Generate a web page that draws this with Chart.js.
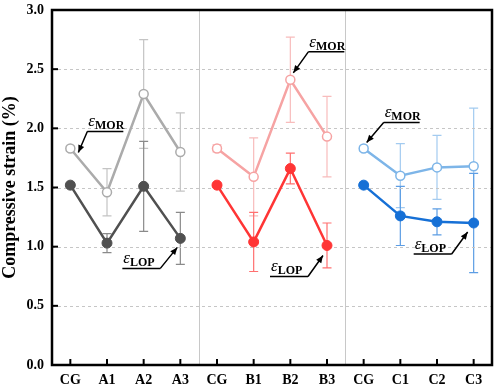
<!DOCTYPE html>
<html>
<head>
<meta charset="utf-8">
<script src="https://cdn.jsdelivr.net/npm/chart.js@4.4.0/dist/chart.umd.min.js"></script>
<style>
  html, body { margin: 0; padding: 0; background: #fff; }
  #wrap { width: 498px; height: 388px; }
</style>
</head>
<body>
<div id="wrap"><canvas id="strain"></canvas></div>
<script>
// categories along the x axis
var categories = ['CG', 'A1', 'A2', 'A3', 'CG', 'B1', 'B2', 'B3', 'CG', 'C1', 'C2', 'C3'];
var yTicks = [0, 0.5, 1.0, 1.5, 2.0, 2.5, 3.0];

// mean values (null = not in this group)
var morA = [1.83, 1.46, 2.29, 1.80, null, null, null, null, null, null, null, null];
var lopA = [1.52, 1.03, 1.51, 1.07, null, null, null, null, null, null, null, null];
var morB = [null, null, null, null, 1.83, 1.59, 2.41, 1.93, null, null, null, null];
var lopB = [null, null, null, null, 1.52, 1.04, 1.66, 1.01, null, null, null, null];
var morC = [null, null, null, null, null, null, null, null, 1.83, 1.60, 1.67, 1.68];
var lopC = [null, null, null, null, null, null, null, null, 1.52, 1.26, 1.21, 1.20];

// error bar half widths
var morAErr = [0.02, 0.20, 0.46, 0.33, null, null, null, null, null, null, null, null];
var lopAErr = [0.01, 0.08, 0.38, 0.22, null, null, null, null, null, null, null, null];
var morBErr = [null, null, null, null, 0.03, 0.33, 0.36, 0.34, null, null, null, null];
var lopBErr = [null, null, null, null, 0.01, 0.25, 0.13, 0.19, null, null, null, null];
var morCErr = [null, null, null, null, null, null, null, null, 0.02, 0.27, 0.27, 0.49];
var lopCErr = [null, null, null, null, null, null, null, null, 0.01, 0.25, 0.11, 0.42];

// annotation targets: subscript, category index, value pointed at
var noteSubs = ['MOR', 'MOR', 'MOR', 'LOP', 'LOP', 'LOP'];
var noteIdx = [0, 6, 8, 3, 7, 11];
var noteVals = [1.83, 2.41, 1.83, 1.07, 1.01, 1.20];

// arrow tip offset from point, leader vector back to underline, underline side
var noteStyle = [
    {tip: [8, 4], lead: [9, -21], left: true},
    {tip: [3, -7], lead: [15, -21], left: true},
    {tip: [3, -6], lead: [17, -20], left: true},
    {tip: [-3, 9], lead: [-17, 21], left: false},
    {tip: [-4, 10], lead: [-15, 21], left: false},
    {tip: [-6, 9], lead: [-16, 22], left: false}
];

var serif = '"Liberation Serif", "Times New Roman", serif';

function series(label, data, err, color, errColor, open) {
    return {
        label: label,
        data: data,
        err: err,
        errColor: errColor,
        borderColor: color,
        backgroundColor: open ? '#ffffff' : color,
        pointBorderColor: color,
        pointBackgroundColor: open ? '#ffffff' : color,
        pointRadius: open ? 4.5 : 5,
        pointBorderWidth: open ? 1.5 : 1,
        borderWidth: 2.5,
        spanGaps: false,
        tension: 0
    };
}

var errorBars = {
    id: 'errorBars',
    beforeDatasetsDraw: function(chart) {
        var c = chart.ctx;
        var x = chart.scales.x, y = chart.scales.y;
        chart.data.datasets.forEach(function(ds) {
            c.save();
            c.strokeStyle = ds.errColor;
            c.lineWidth = 1.2;
            ds.data.forEach(function(v, i) {
                if (v === null || ds.err[i] === null) return;
                var px = x.getPixelForValue(i);
                var top = y.getPixelForValue(v + ds.err[i]);
                var bot = y.getPixelForValue(v - ds.err[i]);
                c.beginPath();
                c.moveTo(px, top); c.lineTo(px, bot);
                c.moveTo(px - 4.5, top); c.lineTo(px + 4.5, top);
                c.moveTo(px - 4.5, bot); c.lineTo(px + 4.5, bot);
                c.stroke();
            });
            c.restore();
        });
    }
};

var frame = {
    id: 'frame',
    beforeDatasetsDraw: function(chart) {
        var c = chart.ctx, a = chart.chartArea;
        var x = chart.scales.x, y = chart.scales.y;
        c.save();
        // dashed horizontal grid
        c.strokeStyle = '#c6c6c6';
        c.lineWidth = 1;
        c.setLineDash([3, 3]);
        yTicks.forEach(function(v) {
            if (v <= 0 || v >= 3) return;
            var py = Math.round(y.getPixelForValue(v)) + 0.5;
            c.beginPath(); c.moveTo(a.left, py); c.lineTo(a.right, py); c.stroke();
        });
        c.setLineDash([]);
        // group separators
        c.strokeStyle = '#c8c8c8';
        [3.5, 7.5].forEach(function(v) {
            var px = Math.round(x.getPixelForValue(v)) + 0.5;
            c.beginPath(); c.moveTo(px, a.top); c.lineTo(px, a.bottom); c.stroke();
        });
        c.restore();
    },
    afterDraw: function(chart) {
        var c = chart.ctx, a = chart.chartArea;
        var x = chart.scales.x, y = chart.scales.y;
        c.save();
        c.strokeStyle = '#000';
        c.lineWidth = 2.5;
        c.strokeRect(a.left, a.top, a.right - a.left, a.bottom - a.top);
        c.lineWidth = 2;
        // inward ticks
        yTicks.forEach(function(v) {
            var py = y.getPixelForValue(v);
            c.beginPath(); c.moveTo(a.left, py); c.lineTo(a.left + 6, py); c.stroke();
        });
        categories.forEach(function(lab, i) {
            var px = x.getPixelForValue(i);
            c.beginPath(); c.moveTo(px, a.bottom); c.lineTo(px, a.bottom - 6); c.stroke();
        });
        c.restore();

        // epsilon labels with leader arrows
        noteSubs.forEach(function(sub, k) {
            var st = noteStyle[k];
            var tx = x.getPixelForValue(noteIdx[k]);
            var ty = y.getPixelForValue(noteVals[k]);
            var ax = tx + st.tip[0], ay = ty + st.tip[1];
            var ex = ax + st.lead[0], ey = ay + st.lead[1];
            var ux0, ux1;
            if (st.left) { ux0 = ex; ux1 = ex + 36; } else { ux0 = ex - 38; ux1 = ex; }
            c.save();
            c.strokeStyle = '#000';
            c.fillStyle = '#000';
            c.lineWidth = 1.5;
            c.beginPath();
            c.moveTo(ux1, ey); c.lineTo(ux0, ey);
            c.moveTo(ex, ey); c.lineTo(ax, ay);
            c.stroke();
            var ang = Math.atan2(ay - ey, ax - ex);
            c.beginPath();
            c.moveTo(ax, ay);
            c.lineTo(ax - 8 * Math.cos(ang - 0.4), ay - 8 * Math.sin(ang - 0.4));
            c.lineTo(ax - 8 * Math.cos(ang + 0.4), ay - 8 * Math.sin(ang + 0.4));
            c.closePath();
            c.fill();
            c.textBaseline = 'alphabetic';
            c.font = 'italic 17px ' + serif;
            var lx = ux0 + 1;
            c.fillText('\u03b5', lx, ey - 5);
            var w = c.measureText('\u03b5').width;
            c.font = 'bold 12px ' + serif;
            c.fillText(sub, lx + w, ey - 2);
            c.restore();
        });
    }
};

new Chart(document.getElementById('strain'), {
    type: 'line',
    data: {
        labels: categories,
        datasets: [
            series('MOR A', morA, morAErr, '#ababab', '#c4c4c4', true),
            series('LOP A', lopA, lopAErr, '#505050', '#8a8a8a', false),
            series('MOR B', morB, morBErr, '#f6a3a3', '#f8bcbc', true),
            series('LOP B', lopB, lopBErr, '#ff3535', '#ff7070', false),
            series('MOR C', morC, morCErr, '#7db5e8', '#a3cbf0', true),
            series('LOP C', lopC, lopCErr, '#1670d6', '#5c9de4', false)
        ]
    },
    options: {
        responsive: true,
        maintainAspectRatio: false,
        animation: false,
        layout: { padding: { top: 10, right: 6, left: 0, bottom: 0 } },
        plugins: {
            legend: { display: false },
            tooltip: { enabled: false }
        },
        scales: {
            x: {
                type: 'category',
                offset: true,
                grid: { display: false, drawTicks: false },
                border: { display: false },
                ticks: {
                    color: '#000',
                    padding: 7,
                    font: { family: serif, size: 14, weight: 'bold' }
                },
                afterFit: function(s) {
                    s.height = 23;
                    s.paddingLeft = 0;
                    s.paddingRight = 0;
                }
            },
            y: {
                min: 0,
                max: 3,
                afterBuildTicks: function(s) {
                    s.ticks = yTicks.map(function(v) { return {value: v}; });
                },
                grid: { display: false, drawTicks: false },
                border: { display: false },
                ticks: {
                    color: '#000',
                    padding: 8,
                    font: { family: serif, size: 14, weight: 'bold' },
                    callback: function(v) { return v.toFixed(1); }
                },
                title: {
                    display: true,
                    text: 'Compressive strain (%)',
                    color: '#000',
                    padding: { top: 0, bottom: 2 },
                    font: { family: serif, size: 18, weight: 'bold' }
                },
                afterFit: function(s) {
                    s.width = 52;
                    s.paddingTop = 0;
                    s.paddingBottom = 0;
                }
            }
        }
    },
    plugins: [errorBars, frame]
});
</script>
</body>
</html>
